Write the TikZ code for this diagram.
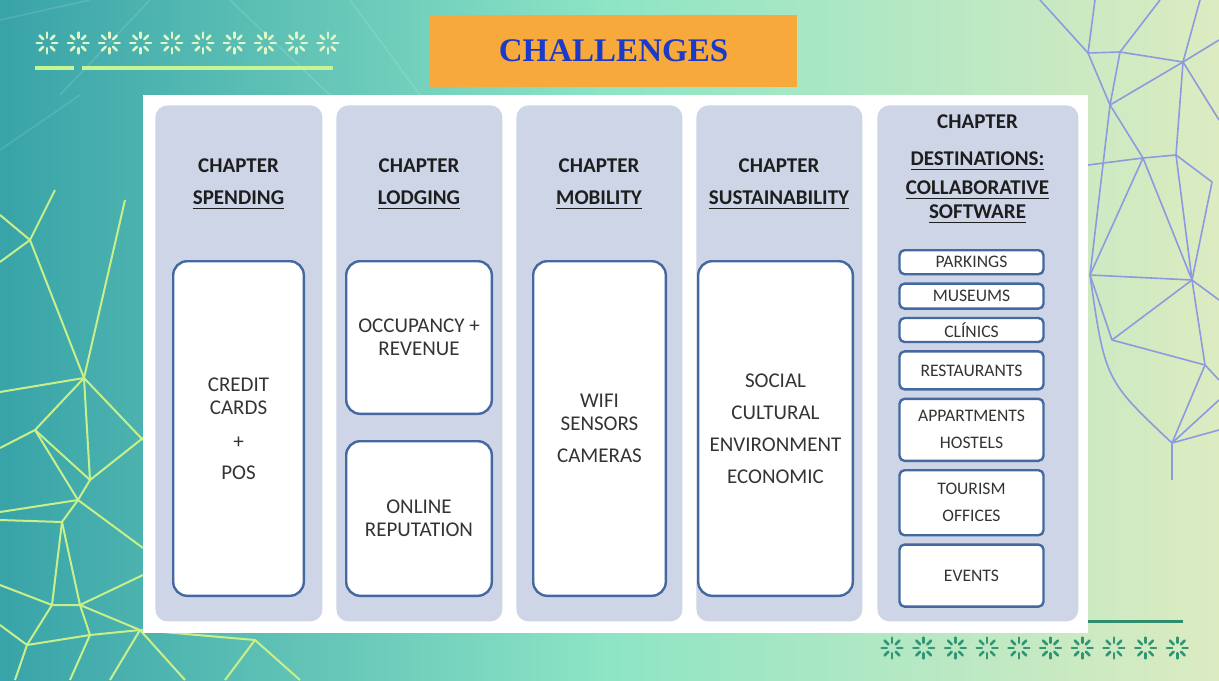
\documentclass[tikz,border=0pt]{standalone}
\usepackage{fontspec}
\setmainfont{Carlito}
\newfontfamily\titlefont{Liberation Serif}
\usepackage{tikz}
\usetikzlibrary{positioning}
\definecolor{bgteal}{RGB}{56,163,168}
\definecolor{bgmint}{RGB}{141,229,197}
\definecolor{bgpale}{RGB}{221,235,193}
\definecolor{meshgreen}{RGB}{200,240,138}
\definecolor{meshblue}{RGB}{140,155,224}
\definecolor{starpale}{RGB}{222,246,200}
\definecolor{stardark}{RGB}{46,150,116}
\definecolor{rulegreen}{RGB}{198,245,150}
\definecolor{ruleteal}{RGB}{47,140,110}
\definecolor{banner}{RGB}{247,169,59}
\definecolor{bannerblue}{RGB}{28,58,200}
\definecolor{panel}{RGB}{205,213,231}
\definecolor{boxblue}{RGB}{68,104,160}
\definecolor{inkdark}{RGB}{30,30,30}
\definecolor{inkgray}{RGB}{52,52,52}
% underlined chapter name with a slightly heavier rule
\newcommand{\ulword}[1]{\leavevmode\vtop{\hbox{#1}\kern1.6pt\hrule height0.75pt}}

\begin{document}
\begin{tikzpicture}[x=0.5pt,y=-0.5pt,
  colpanel/.style={fill=panel,rounded corners=6pt,anchor=north west,inner sep=0pt},
  chaphead/.style={font=\bfseries\fontsize{10.5}{9.5}\selectfont,text=inkdark,align=center},
  bigbox/.style={draw=boxblue,line width=1.2pt,fill=white,rounded corners=7pt,
    anchor=north west,align=center,font=\fontsize{10.5}{11.5}\selectfont,text=inkgray},
  itembox/.style={draw=boxblue,line width=1.2pt,fill=white,rounded corners=2.5pt,
    minimum width=72pt,align=center,inner sep=1pt,
    font=\fontsize{8.8}{13.5}\selectfont,text=inkgray},
  leftmesh/.style={meshgreen,line width=1pt,line join=round},
  rightmesh/.style={meshblue,line width=0.8pt,line join=round},
  flower/.pic={\foreach \a in {90,135,...,405}
    \draw[line width=1.3pt,line cap=round] (\a:2.6pt) -- (\a:5.2pt);}]
  \useasboundingbox (0,0) rectangle (1219,680);
  % background
  \fill[left color=bgteal,right color=bgpale,middle color=bgmint] (0,0) rectangle (1219,680);
  % faint lines in the top strip
  \draw[white,opacity=0.12,line width=0.8pt] (0,20) -- (90,0) (60,95) -- (150,0)
    (230,0) -- (330,95) (350,0) -- (420,95) (0,150) -- (80,95);
  % mesh, left
  \draw[leftmesh] (0,215) -- (30,240) -- (0,262);
  \draw[leftmesh] (55,190) -- (30,240) -- (84,378) -- (0,392);
  \draw[leftmesh] (125,200) -- (84,378) -- (143,440);
  \draw[leftmesh] (84,378) -- (35,430) -- (0,448);
  \draw[leftmesh] (84,378) -- (90,480) -- (143,438);
  \draw[leftmesh] (35,430) -- (90,480) -- (78,500) -- (0,512);
  \draw[leftmesh] (35,430) -- (78,500);
  \draw[leftmesh] (0,520) -- (62,522) -- (78,500) -- (143,548);
  \draw[leftmesh] (62,522) -- (52,605) -- (0,585);
  \draw[leftmesh] (62,522) -- (80,605) -- (143,575);
  \draw[leftmesh] (52,605) -- (80,605) -- (140,630);
  \draw[leftmesh] (0,625) -- (27,645) -- (52,605);
  \draw[leftmesh] (27,645) -- (90,635) -- (80,605);
  \draw[leftmesh] (90,635) -- (140,630) -- (185,680);
  \draw[leftmesh] (27,645) -- (15,680);
  \draw[leftmesh] (90,635) -- (70,680);
  \draw[leftmesh] (140,630) -- (110,680);
  \draw[leftmesh] (140,630) -- (255,640) -- (300,680);
  \draw[leftmesh] (255,640) -- (225,680);
  % mesh, right
  \draw[rightmesh] (1040,0) -- (1088,53) -- (1120,52) -- (1160,0);
  \draw[rightmesh] (1095,0) -- (1088,53);
  \draw[rightmesh] (1120,52) -- (1183,62) -- (1200,0);
  \draw[rightmesh] (1183,62) -- (1219,40);
  \draw[rightmesh] (1088,53) -- (1110,105) -- (1120,52);
  \draw[rightmesh] (1110,105) -- (1183,62) -- (1176,155);
  \draw[rightmesh] (1110,105) -- (1143,158) -- (1176,155) -- (1212,182);
  \draw[rightmesh] (1088,165) -- (1143,158) -- (1090,275);
  \draw[rightmesh] (1110,105) -- (1090,275);
  \draw[rightmesh] (1143,158) -- (1192,280) -- (1176,155);
  \draw[rightmesh] (1212,182) -- (1192,280) -- (1219,300);
  \draw[rightmesh] (1219,120) -- (1183,62);
  \draw[rightmesh] (1090,275) -- (1192,280);
  \draw[rightmesh] (1090,275) -- (1112,340) -- (1192,280);
  \draw[rightmesh] (1112,340) -- (1205,365) -- (1192,280);
  \draw[rightmesh] (1090,275) .. controls (1105,380) .. (1172,443);
  \draw[rightmesh] (1172,443) -- (1205,365) -- (1219,380);
  \draw[rightmesh] (1172,443) -- (1219,400);
  \draw[rightmesh] (1172,443) -- (1219,430);
  \draw[rightmesh] (1172,443) -- (1172,480);
  % ornaments
  \foreach \i in {0,...,9}
    \pic[starpale] at ({47+31.2*\i},43) {flower};
  \draw[rulegreen,line width=2pt] (35,68) -- (74,68) (82,68) -- (333,68);
  \foreach \i in {0,...,9}
    \pic[stardark] at ({892+31.7*\i},648) {flower};
  \draw[ruleteal,line width=1.5pt] (1088,621) -- (1183,621);
  % title
  \node[fill=banner,minimum width=183.5pt,minimum height=36pt,
    font=\titlefont\bfseries\fontsize{16.5}{18}\selectfont,text=bannerblue]
    (title) at (613.5,51) {CHALLENGES};
  % board and chapters
  \node[fill=white,anchor=north west,inner sep=0pt,minimum width=472.5pt,
    minimum height=269pt] (board) at (143,95) {};
  \node[colpanel,minimum width=83.5pt,minimum height=258pt] (spending) at (155,105) {};
  \node[colpanel,minimum width=83pt,minimum height=258pt] (lodging) at (336,105) {};
  \node[colpanel,minimum width=83pt,minimum height=258pt] (mobility) at (516,105) {};
  \node[colpanel,minimum width=83pt,minimum height=258pt] (sustain) at (696,105) {};
  \node[colpanel,minimum width=100.5pt,minimum height=258pt] (dest) at (877,105) {};
  \node[chaphead] (hspending) at (238.5,184) {CHAPTER\\[6.5pt]\ulword{SPENDING}};
  \node[chaphead] (hlodging) at (419,184) {CHAPTER\\[6.5pt]\ulword{LODGING}};
  \node[chaphead] (hmobility) at (599,184) {CHAPTER\\[6.5pt]\ulword{MOBILITY}};
  \node[chaphead] (hsustain) at (779,184) {CHAPTER\\[6.5pt]\ulword{SUSTAINABILITY}};
  \node[chaphead] (hdest) at (977.5,169) {CHAPTER\\[9pt]\ulword{DESTINATIONS:}\\[5pt]
    \ulword{COLLABORATIVE}\\[2.5pt]\ulword{SOFTWARE}};
  \node[bigbox,minimum width=65.3pt,minimum height=167.3pt] (cards) at (172,260)
    {CREDIT\\CARDS\\[5.5pt]+\\[4pt]POS};
  \node[bigbox,minimum width=72.8pt,minimum height=76.3pt] (occupancy) at (345,260)
    {OCCUPANCY +\\REVENUE};
  \node[bigbox,minimum width=72.8pt,minimum height=77.3pt] (reputation) at (345,440)
    {ONLINE\\REPUTATION};
  \node[bigbox,minimum width=66.3pt,minimum height=167.3pt] (sensors) at (532,260)
    {WIFI\\SENSORS\\[4.5pt]CAMERAS};
  \node[bigbox,minimum width=77.3pt,minimum height=167.3pt] (impacts) at (697,260)
    {SOCIAL\\[4.5pt]CULTURAL\\[4.5pt]ENVIRONMENT\\[4.5pt]ECONOMIC};
  % collaborative software list
  \node[itembox,minimum height=12pt,anchor=north] (parkings) at (971.5,249) {PARKINGS};
  \node[itembox,minimum height=12.5pt,below=3.5pt of parkings] (museums) {MUSEUMS};
  \node[itembox,minimum height=12pt,below=3.5pt of museums] (clinics) {CLÍNICS};
  \node[itembox,minimum height=19pt,below=3.5pt of clinics] (restaurants) {RESTAURANTS};
  \node[itembox,minimum height=31pt,below=3.5pt of restaurants] (hostels) {APPARTMENTS\\HOSTELS};
  \node[itembox,minimum height=32.5pt,below=3.5pt of hostels] (offices) {TOURISM\\OFFICES};
  \node[itembox,minimum height=31pt,below=3.5pt of offices] (events) {EVENTS};
\end{tikzpicture}
\end{document}
